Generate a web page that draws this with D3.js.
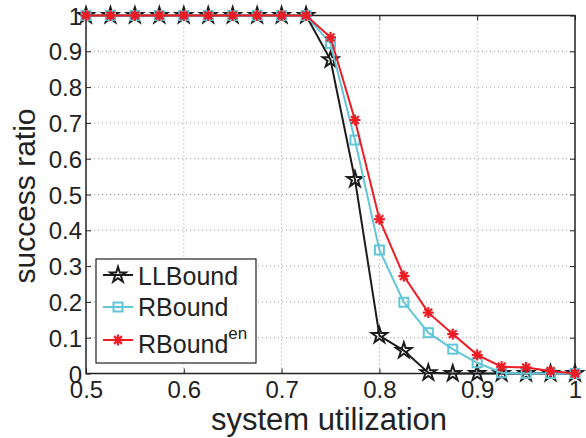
<!DOCTYPE html>
<html>
<head>
<meta charset="utf-8">
<script src="https://cdn.jsdelivr.net/npm/d3@7"></script>
<style>
  body { margin: 0; background: #fff; }
  svg text { font-family: "Liberation Sans", Arial, sans-serif; fill: #222; }
</style>
</head>
<body>
<script>
// data
let utilization = [0.5, 0.525, 0.55, 0.575, 0.6, 0.625, 0.65, 0.675, 0.7, 0.725,
                   0.75, 0.775, 0.8, 0.825, 0.85, 0.875, 0.9, 0.925, 0.95, 0.975, 1.0];
let llBound  = [1, 1, 1, 1, 1, 1, 1, 1, 1, 1, 0.876, 0.542, 0.106, 0.064, 0.002, 0, 0, 0, 0, 0, 0];
let rBound   = [1, 1, 1, 1, 1, 1, 1, 1, 1, 1, 0.922, 0.652, 0.345, 0.199, 0.114, 0.068, 0.030, 0.002, 0, 0, 0];
let rBoundEn = [1, 1, 1, 1, 1, 1, 1, 1, 1, 1, 0.939, 0.708, 0.431, 0.272, 0.170, 0.110, 0.052, 0.019, 0.017, 0.007, 0];
let xTicks = [0.5, 0.6, 0.7, 0.8, 0.9, 1];
let yTicks = [0, 0.1, 0.2, 0.3, 0.4, 0.5, 0.6, 0.7, 0.8, 0.9, 1];

let opts = { width: 586, height: 438, left: 86, right: 575, top: 15.5, bottom: 373.5 };

let series = [
    { name: "LLBound", values: llBound, color: "#1c1c1c", marker: "star" },
    { name: "RBound", values: rBound, color: "#62c6d8", marker: "square" },
    { name: "RBound", sup: "en", values: rBoundEn, color: "#ee1c25", marker: "asterisk" }
];

let svg = d3.select("body").append("svg")
    .attr("width", opts.width)
    .attr("height", opts.height);

let x = d3.scaleLinear().domain([0.5, 1]).range([opts.left, opts.right]);
let y = d3.scaleLinear().domain([0, 1]).range([opts.bottom, opts.top]);

// dotted grid
let grid = svg.append("g").attr("stroke", "#999").attr("stroke-width", 1)
    .attr("stroke-dasharray", "1,3");
grid.selectAll(".gx").data(xTicks.slice(1, -1)).enter().append("line")
    .attr("x1", d => x(d)).attr("x2", d => x(d))
    .attr("y1", opts.top).attr("y2", opts.bottom);
grid.selectAll(".gy").data(yTicks.slice(1, -1)).enter().append("line")
    .attr("x1", opts.left).attr("x2", opts.right)
    .attr("y1", d => y(d)).attr("y2", d => y(d));

// axes with inward ticks (box on)
let fmt = d => d3.format("")(d);
svg.append("g").attr("transform", `translate(0,${opts.bottom})`)
    .call(d3.axisBottom(x).tickValues(xTicks).tickSizeInner(-5).tickSizeOuter(0).tickPadding(0).tickFormat(fmt))
    .call(g => g.selectAll("text").attr("font-size", 24).attr("y", 24.5).attr("dy", null));
svg.append("g").attr("transform", `translate(${opts.left},0)`)
    .call(d3.axisLeft(y).tickValues(yTicks).tickSizeInner(-5).tickSizeOuter(0).tickPadding(4).tickFormat(fmt))
    .call(g => g.selectAll("text").attr("font-size", 24).attr("dy", "0.36em"));
svg.append("g").attr("transform", `translate(0,${opts.top})`)
    .call(d3.axisTop(x).tickValues(xTicks).tickSizeInner(-5).tickSizeOuter(0).tickFormat(""));
svg.append("g").attr("transform", `translate(${opts.right},0)`)
    .call(d3.axisRight(y).tickValues(yTicks).tickSizeInner(-5).tickSizeOuter(0).tickFormat(""));
svg.selectAll(".domain").remove();
svg.selectAll(".tick line").attr("stroke", "#222");

svg.append("rect")
    .attr("x", opts.left).attr("y", opts.top)
    .attr("width", opts.right - opts.left).attr("height", opts.bottom - opts.top)
    .attr("fill", "none").attr("stroke", "#222").attr("stroke-width", 1.5);

// axis titles
svg.append("text")
    .attr("x", 329).attr("y", 430)
    .attr("text-anchor", "middle").attr("font-size", 31)
    .text("system utilization");
svg.append("text")
    .attr("transform", `translate(35,196) rotate(-90)`)
    .attr("text-anchor", "middle").attr("font-size", 30)
    .text("success ratio");

// marker drawing
function drawMarker(g, type, color, cx, cy) {
    if (type === "star") {
        g.append("path")
            .attr("d", d3.symbol(d3.symbolStar, 75)())
            .attr("transform", `translate(${cx},${cy})`)
            .attr("fill", "none").attr("stroke", color).attr("stroke-width", 2);
    } else if (type === "square") {
        g.append("rect")
            .attr("x", cx - 4.5).attr("y", cy - 4.5).attr("width", 9).attr("height", 9)
            .attr("fill", "none").attr("stroke", color).attr("stroke-width", 2);
    } else {
        let r = 5.5;
        let p = g.append("g").attr("transform", `translate(${cx},${cy})`)
            .attr("stroke", color).attr("stroke-width", 2.2);
        [0, 45, 90, 135].forEach(a => {
            let t = a * Math.PI / 180;
            p.append("line")
                .attr("x1", -r * Math.cos(t)).attr("y1", -r * Math.sin(t))
                .attr("x2", r * Math.cos(t)).attr("y2", r * Math.sin(t));
        });
        p.append("circle").attr("r", 2.5).attr("fill", color).attr("stroke", "none");
    }
}

let line = d3.line().x(d => x(d[0])).y(d => y(d[1]));

series.forEach(s => {
    let pts = utilization.map((u, i) => [u, s.values[i]]);
    let g = svg.append("g");
    g.append("path").datum(pts)
        .attr("d", line)
        .attr("fill", "none").attr("stroke", s.color).attr("stroke-width", 2);
    pts.forEach(p => drawMarker(g, s.marker, s.color, x(p[0]), y(p[1])));
});

// legend
let lg = svg.append("g");
lg.append("rect")
    .attr("x", 96).attr("y", 259).attr("width", 160).attr("height", 104)
    .attr("fill", "#fff").attr("stroke", "#222").attr("stroke-width", 1.2);
let lineY = [275, 307, 340];
let textY = [285, 316, 353];
series.forEach((s, i) => {
    lg.append("line")
        .attr("x1", 103).attr("x2", 133).attr("y1", lineY[i]).attr("y2", lineY[i])
        .attr("stroke", s.color).attr("stroke-width", 2);
    drawMarker(lg, s.marker, s.color, 118, lineY[i]);
    let t = lg.append("text")
        .attr("x", 138).attr("y", textY[i])
        .attr("font-size", 25).text(s.name);
    if (s.sup) {
        t.append("tspan").attr("dy", -14).attr("font-size", 17).text(s.sup);
    }
});
</script>
</body>
</html>
